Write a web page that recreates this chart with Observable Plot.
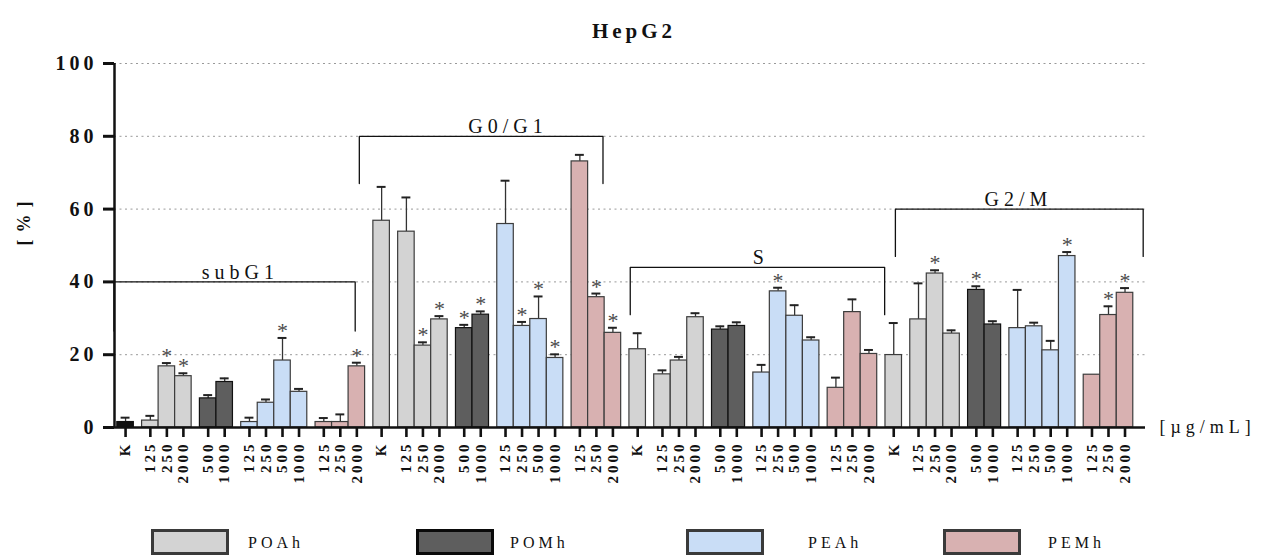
<!DOCTYPE html>
<html>
<head>
<meta charset="utf-8">
<script src="https://cdn.jsdelivr.net/npm/d3@7"></script>
<script src="https://cdn.jsdelivr.net/npm/@observablehq/plot@0.6"></script>
<style>
  body { margin: 0; background: #fff; }
  #wrap { position: relative; width: 1264px; height: 559px; overflow: hidden; font-family: "Liberation Serif", "Times New Roman", serif; color: #111; }
  #title { position: absolute; z-index: 5; top: 19px; left: 0; width: 1264px; text-align: center; font-weight: bold; font-size: 21px; letter-spacing: 4px; text-indent: 4px; }
  #chart { position: absolute; top: 0; left: 0; }
  .sw { position: absolute; top: 529px; width: 78px; height: 26px; box-sizing: border-box; border: 3.5px solid #3a3a3a; }
  .lt { position: absolute; top: 533px; font-size: 16px; letter-spacing: 4px; line-height: 20px; }
</style>
</head>
<body>
<div id="wrap">
  <div id="title">HepG2</div>
  <div id="chart"></div>
</div>
<script>
// ---------------- data ----------------
const phases = ["subG1", "G0/G1", "S", "G2/M"];
const groups = ["K", "POAh", "POMh", "PEAh", "PEMh"];
const doses = [["K"], ["125", "250", "2000"], ["500", "1000"], ["125", "250", "500", "1000"], ["125", "250", "2000"]];

// bar order per phase: K | POAh 125 250 2000 | POMh 500 1000 | PEAh 125 250 500 1000 | PEMh 125 250 2000
const subG1Mean = [1.5, 1.9, 16.8, 14.1, 8.0, 12.5, 1.5, 6.8, 18.4, 9.8, 1.5, 1.5, 16.8];
const subG1Err  = [1.2, 1.3, 0.9, 0.8, 0.9, 1.0, 1.2, 0.9, 6.2, 0.8, 1.1, 2.1, 1.0];
const subG1Sig  = [0, 0, 1, 1, 0, 0, 0, 0, 1, 0, 0, 0, 1];

const g0g1Mean = [56.8, 53.8, 22.5, 29.7, 27.3, 31.0, 55.9, 27.9, 29.8, 19.1, 73.1, 35.8, 26.0];
const g0g1Err  = [9.3, 9.4, 0.9, 0.9, 0.9, 0.9, 11.9, 1.1, 6.2, 1.0, 1.8, 1.0, 1.4];
const g0g1Sig  = [0, 0, 1, 1, 1, 1, 0, 1, 1, 1, 0, 1, 1];

const sMean = [21.5, 14.6, 18.4, 30.3, 26.9, 27.9, 15.1, 37.4, 30.7, 23.9, 10.9, 31.7, 20.2];
const sErr  = [4.4, 1.1, 1.0, 1.1, 0.9, 1.0, 2.1, 1.0, 2.9, 0.9, 2.8, 3.5, 1.1];
const sSig  = [0, 0, 0, 0, 0, 0, 0, 1, 0, 0, 0, 0, 0];

const g2mMean = [19.9, 29.7, 42.3, 25.8, 37.8, 28.3, 27.3, 27.8, 21.2, 47.1, 14.5, 30.9, 37.0];
const g2mErr  = [8.8, 9.9, 0.9, 0.9, 1.0, 0.9, 10.5, 1.0, 2.6, 1.1, 0, 2.4, 1.3];
const g2mSig  = [0, 0, 1, 0, 1, 0, 0, 0, 0, 1, 0, 1, 1];

// phase brackets (data units)
const bracketLeft   = [-0.7, 14.15, 30.55, 46.6];
const bracketRight  = [13.9, 28.9, 45.95, 61.6];
const bracketTop    = [40, 80, 44, 60];
const bracketLegEnd = [26.5, 67, 31, 47];
const bracketLabelX = [6.8, 23.0, 38.3, 53.9];

const yTicks = [0, 20, 40, 60, 80, 100];

// ---------------- styles ----------------
const fillColors = {K: "#d3d3d3", Kdark: "#111111", POAh: "#d3d3d3", POMh: "#5e5e5e", PEAh: "#c9ddf6", PEMh: "#d8b1b1"};
const strokeColors = {K: "#3c3c3c", Kdark: "#111111", POAh: "#3c3c3c", POMh: "#111111", PEAh: "#3c3c3c", PEMh: "#3c3c3c"};
const SERIF = "Liberation Serif, Times New Roman, serif";

// ---------------- build table ----------------
const means = [subG1Mean, g0g1Mean, sMean, g2mMean];
const errs = [subG1Err, g0g1Err, sErr, g2mErr];
const sigs = [subG1Sig, g0g1Sig, sSig, g2mSig];
const rows = [];
let u = 0;
phases.forEach((ph, p) => {
  let k = 0;
  groups.forEach((g, gi) => {
    doses[gi].forEach(d => {
      const key = (g === "K" && p === 0) ? "Kdark" : g;
      rows.push({phase: ph, group: g, dose: d, pos: u, value: means[p][k], err: errs[p][k], sig: sigs[p][k],
                 fill: fillColors[key], stroke: strokeColors[key]});
      k++; u += 1;
    });
    u += 0.5;
  });
});
const labelByPos = new Map(rows.map(r => [r.pos, r.dose]));

const brackets = [];
phases.forEach((ph, i) => {
  brackets.push({phase: ph, x: bracketLeft[i], y: bracketLegEnd[i]});
  brackets.push({phase: ph, x: bracketLeft[i], y: bracketTop[i]});
  brackets.push({phase: ph, x: bracketRight[i], y: bracketTop[i]});
  brackets.push({phase: ph, x: bracketRight[i], y: bracketLegEnd[i]});
});
const bracketLabels = phases.map((ph, i) => ({phase: ph, x: bracketLabelX[i], y: bracketTop[i]}));

// ---------------- plot ----------------
const xMin = -0.67, xMax = 61.74;
const chart = Plot.plot({
  width: 1264,
  height: 490,
  marginTop: 63,
  marginBottom: 63,
  marginLeft: 114,
  marginRight: 119,
  style: {fontFamily: SERIF, background: "white", color: "#111", letterSpacing: "3px"},
  x: {type: "linear", domain: [xMin, xMax], axis: null},
  y: {domain: [0, 100], axis: null},
  color: {type: "identity"},
  marks: [
    Plot.gridY(yTicks.filter(t => t > 0), {stroke: "#999", strokeOpacity: 1, strokeDasharray: "2,3.5", strokeWidth: 1}),
    Plot.ruleX(rows, {x: "pos", y1: "value", y2: d => d.value + d.err, stroke: "#333", strokeWidth: 1.3}),
    Plot.rect(rows, {x1: d => d.pos - 0.5, x2: d => d.pos + 0.5, y1: 0, y2: "value", fill: "fill", stroke: "stroke", strokeWidth: 1.2}),
    Plot.ruleY(rows.filter(d => d.err > 0), {y: d => d.value + d.err, x1: d => d.pos - 0.27, x2: d => d.pos + 0.27, stroke: "#222", strokeWidth: 2}),
    Plot.text(rows.filter(d => d.sig), {x: "pos", y: d => d.value + d.err, text: () => "*", fontSize: 22, fill: "#4a4a4a", lineAnchor: "bottom", dy: 0, dx: 1.5, fontFamily: SERIF}),
    Plot.line(brackets, {x: "x", y: "y", z: "phase", stroke: "#111", strokeWidth: 1.3, curve: "linear"}),
    Plot.text(bracketLabels, {x: "x", y: "y", text: "phase", lineAnchor: "bottom", dy: -3, dx: 2.5, fontSize: 20, fill: "#111", fontFamily: SERIF}),
    Plot.ruleY([0], {x1: xMin, x2: xMax, stroke: "#111", strokeWidth: 2.5}),
    Plot.ruleX([xMin], {y1: 0, y2: 100, stroke: "#111", strokeWidth: 2.5}),
    Plot.axisY({ticks: yTicks, tickSize: 11, tickPadding: 6, strokeWidth: 3, fontSize: 20, fontWeight: "bold", fontFamily: SERIF, label: null}),
    Plot.axisX({ticks: rows.map(r => r.pos), tickFormat: d => labelByPos.get(d), tickRotate: -90, tickSize: 10, tickPadding: 4, strokeWidth: 2.6, fontSize: 15, fontWeight: "bold", fontFamily: SERIF, label: null}),
    Plot.text(["[µg/mL]"], {frameAnchor: "right", y: 0, text: d => d, textAnchor: "start", dx: 14, fontSize: 18, fontFamily: SERIF, fill: "#111"}),
    Plot.text(["[%]"], {frameAnchor: "left", y: 50, text: d => d, rotate: -90, dx: -90, fontSize: 18, fontWeight: "bold", fontFamily: SERIF, fill: "#111"})
  ]
});
document.getElementById("chart").appendChild(chart);

const svg = d3.select(chart);
svg.selectAll("text").filter(function () { return phases.includes(this.textContent); }).attr("letter-spacing", 5);
svg.selectAll("text").filter(function () { return this.textContent === "[µg/mL]"; }).attr("letter-spacing", 5);
svg.selectAll("text").filter(function () { return this.textContent === "[%]"; }).attr("letter-spacing", 7);
svg.selectAll("text").filter(function () { return ["0", "20", "40", "60", "80", "100"].includes(this.textContent); }).attr("letter-spacing", 4);

// ---------------- legend ----------------
const wrap = document.getElementById("wrap");
const swLeft = [151, 416, 686, 943];
const txtLeft = [248, 510, 808, 1048];
groups.slice(1).forEach((g, i) => {
  const sw = document.createElement("div");
  sw.className = "sw";
  sw.style.left = swLeft[i] + "px";
  sw.style.background = fillColors[g];
  sw.style.borderColor = g === "POMh" ? "#0a0a0a" : "#3a3a3a";
  wrap.appendChild(sw);
  const t = document.createElement("div");
  t.className = "lt";
  t.style.left = txtLeft[i] + "px";
  t.textContent = g;
  wrap.appendChild(t);
});
</script>
</body>
</html>
